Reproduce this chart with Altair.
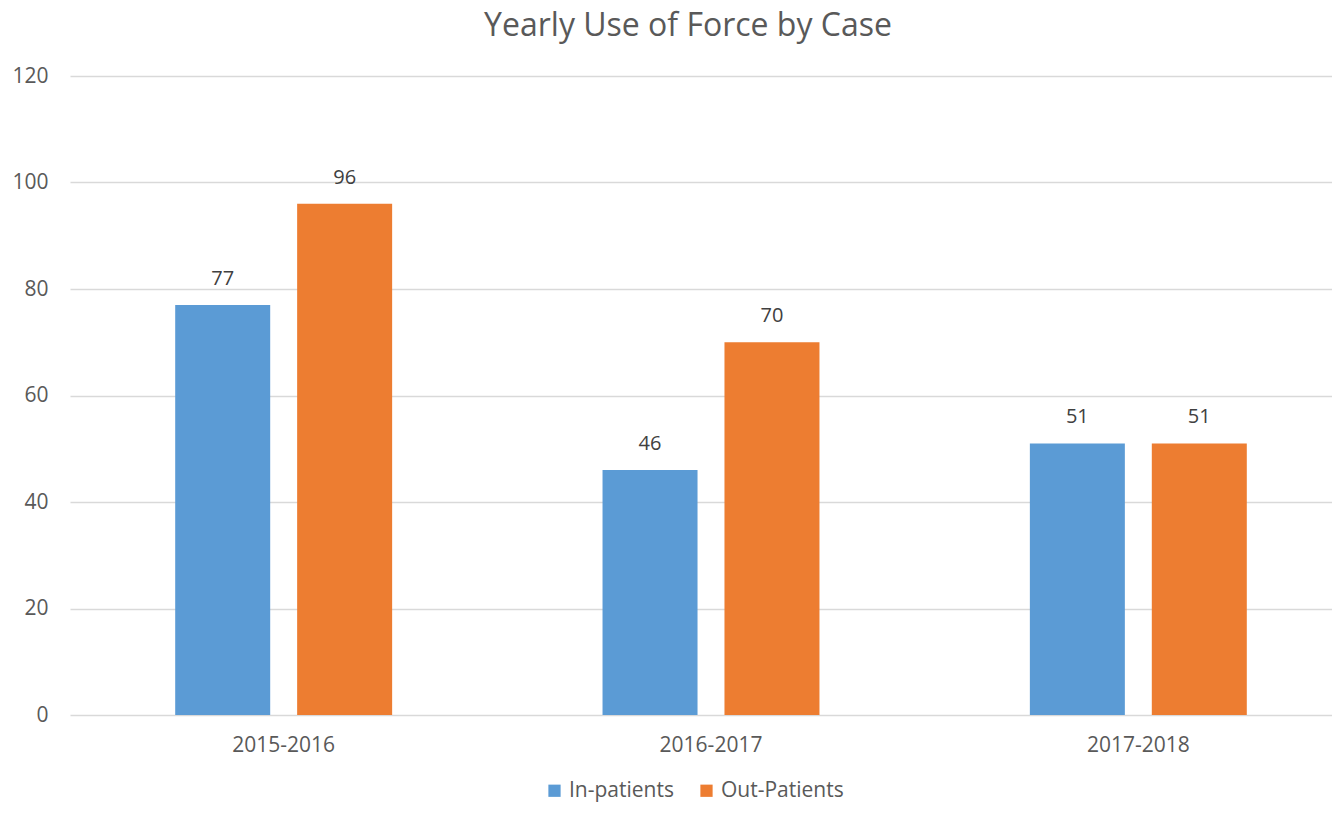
import altair as alt
import pandas as pd

years = ["2015-2016", "2016-2017", "2017-2018"]
series = ["In-patients", "Out-Patients"]
in_patients = [77, 46, 51]
out_patients = [96, 70, 51]
colors = ["#5B9BD5", "#ED7D31"]

rows = []
for i, y in enumerate(years):
    rows.append({"year": y, "series": series[0], "value": in_patients[i]})
    rows.append({"year": y, "series": series[1], "value": out_patients[i]})
df = pd.DataFrame(rows)

FONT = "Open Sans"
TXT = "#595959"

x_enc = alt.X("year:N", sort=years,
              scale=alt.Scale(range=[0, 1282], paddingInner=0, paddingOuter=0),
              axis=alt.Axis(title=None, labelAngle=0, labelFontSize=21, labelColor=TXT,
                            labelFont=FONT, labelPadding=19, domain=False, ticks=False, grid=False))
xoff = alt.XOffset("series:N", sort=series,
                   scale=alt.Scale(paddingInner=0.221, paddingOuter=0.8627))
y_enc = alt.Y("value:Q", scale=alt.Scale(domain=[0, 120]),
              axis=alt.Axis(title=None, values=[0, 20, 40, 60, 80, 100, 120],
                            labelFontSize=21, labelColor=TXT, labelFont=FONT,
                            labelPadding=22, domain=False, ticks=False,
                            grid=True, gridColor="#D9D9D9", gridWidth=1.3))
color_enc = alt.Color("series:N", sort=series,
                      scale=alt.Scale(domain=series, range=colors),
                      legend=alt.Legend(title=None, orient="none", direction="horizontal",
                                        legendX=474, legendY=704, symbolType="square",
                                        symbolSize=150, symbolStrokeWidth=0,
                                        labelFontSize=21, labelColor=TXT, labelFont=FONT,
                                        columnPadding=22, labelOffset=4))

base = alt.Chart(df)
bars = base.mark_bar(size=95).encode(x=x_enc, xOffset=xoff, y=y_enc, color=color_enc)
labels = base.mark_text(baseline="alphabetic", dy=-20, fontSize=20, color="#404040",
                        font=FONT).encode(x=x_enc, xOffset=xoff, y=y_enc,
                                          text=alt.Text("value:Q"))

chart = (bars + labels).properties(
    width=1262, height=639,
    title=alt.TitleParams("Yearly Use of Force by Case", fontSize=32, font=FONT,
                          color=TXT, fontWeight="normal", anchor="middle", dx=-13,
                          offset=22),
    autosize=alt.AutoSizeParams(type="none"),
    padding={"left": 62, "top": 68, "right": 0, "bottom": 90},
).configure_view(stroke=None)

chart.save("out.html", embed_options={"renderer": "svg", "actions": False})
